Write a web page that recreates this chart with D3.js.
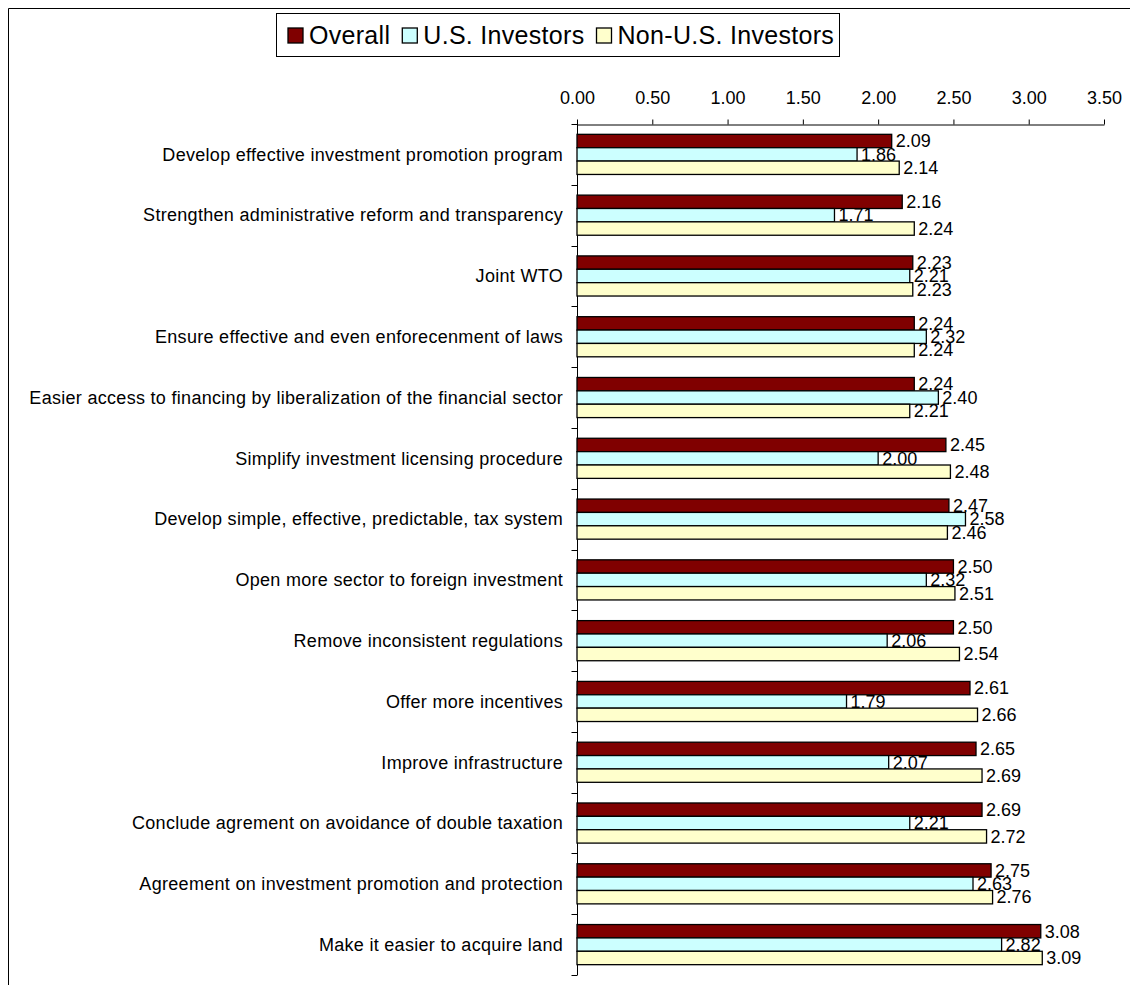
<!DOCTYPE html>
<html><head><meta charset="utf-8">
<script src="https://cdn.jsdelivr.net/npm/d3@7"></script>
<style>body{margin:0;background:#fff} text{font-family:"Liberation Sans",Arial,sans-serif;fill:#000}</style>
</head><body><svg id="c" width="1130" height="985"></svg>
<script>
const categories = [
  "Develop effective investment promotion program",
  "Strengthen administrative reform and transparency",
  "Joint WTO",
  "Ensure effective and even enforecenment of laws",
  "Easier access to financing by liberalization of the financial sector",
  "Simplify investment licensing procedure",
  "Develop simple, effective, predictable, tax system",
  "Open more sector to foreign investment",
  "Remove inconsistent regulations",
  "Offer more incentives",
  "Improve infrastructure",
  "Conclude agrement on avoidance of double taxation",
  "Agreement on investment promotion and protection",
  "Make it easier to acquire land"
];
const overall        = [2.09, 2.16, 2.23, 2.24, 2.24, 2.45, 2.47, 2.50, 2.50, 2.61, 2.65, 2.69, 2.75, 3.08];
const usInvestors    = [1.86, 1.71, 2.21, 2.32, 2.40, 2.00, 2.58, 2.32, 2.06, 1.79, 2.07, 2.21, 2.63, 2.82];
const nonUsInvestors = [2.14, 2.24, 2.23, 2.24, 2.21, 2.48, 2.46, 2.51, 2.54, 2.66, 2.69, 2.72, 2.76, 3.09];
const seriesNames  = ["Overall", "U.S. Investors", "Non-U.S. Investors"];
const seriesColors = ["#800000", "#CCFFFF", "#FFFFCC"];
const tickValues   = [0, 0.5, 1.0, 1.5, 2.0, 2.5, 3.0, 3.5];

const seriesValues = [overall, usInvestors, nonUsInvestors];
const svg = d3.select("#c");

// frame
svg.append("path").attr("d","M8.5,985V8.5H1130").attr("fill","none").attr("stroke","#000").attr("stroke-width",1);

const x = d3.scaleLinear().domain([0, 3.5]).range([577, 1104]);
const y = d3.scaleBand().domain(categories).range([124, 975]).paddingInner(0.34).paddingOuter(0.17);
const ySub = d3.scaleBand().domain(seriesNames).range([0, y.bandwidth()]);

// top axis
const gx = svg.append("g").attr("transform","translate(0,124.5)")
  .call(d3.axisTop(x).tickValues(tickValues).tickFormat(d3.format(".2f")).tickSize(5).tickSizeOuter(0).tickPadding(16));
gx.select(".domain").attr("stroke","#000");
gx.selectAll(".tick line").attr("stroke","#000");
gx.selectAll(".tick text").attr("font-size","18px").attr("font-family",'"Liberation Sans",Arial,sans-serif').attr("fill","#000");

// y axis line and category boundary ticks
const x0 = Math.round(x(0)) + 0.5;
svg.append("line").attr("x1",x0).attr("x2",x0).attr("y1",124).attr("y2",975).attr("stroke","#000");
const step = y.step();
const y0 = y.range()[0];
svg.append("g").selectAll("line").data(d3.range(categories.length + 1)).join("line")
  .attr("x1", x0 - 6).attr("x2", x0)
  .attr("y1", i => Math.round(y0 + i * step) + 0.5).attr("y2", i => Math.round(y0 + i * step) + 0.5)
  .attr("stroke","#000");

// category labels
svg.append("g").selectAll("text").data(categories).join("text")
  .attr("x", 563).attr("y", d => y(d) + y.bandwidth()/2).attr("dy","0.35em")
  .attr("text-anchor","end").attr("font-size","18px").attr("letter-spacing","0.3px").text(d => d);

// bars
const groups = svg.append("g").selectAll("g").data(categories).join("g")
  .attr("transform", d => `translate(0,${y(d)})`);
seriesNames.forEach((s, si) => {
  groups.append("rect")
    .attr("x", x(0))
    .attr("y", ySub(s))
    .attr("width", (d, i) => x(seriesValues[si][i]) - x(0))
    .attr("height", ySub.bandwidth())
    .attr("fill", seriesColors[si]).attr("stroke","#000").attr("stroke-width",1.3);
  groups.append("text")
    .attr("x", (d, i) => x(seriesValues[si][i]) + 4)
    .attr("y", ySub(s) + ySub.bandwidth()/2).attr("dy","0.35em")
    .attr("font-size","18px")
    .text((d, i) => d3.format(".2f")(seriesValues[si][i]));
});

// legend
const lg = svg.append("g");
lg.append("rect").attr("x",276.5).attr("y",13.5).attr("width",563).attr("height",43)
  .attr("fill","#fff").attr("stroke","#000").attr("stroke-width",1);
let cx = 288;
seriesNames.forEach((s, si) => {
  lg.append("rect").attr("x", cx).attr("y", 28).attr("width", 15).attr("height", 15)
    .attr("fill", seriesColors[si]).attr("stroke","#000").attr("stroke-width",1.3);
  cx += 21;
  const t = lg.append("text").attr("x", cx).attr("y", 35.5).attr("dy","0.35em")
    .attr("font-size","25px").attr("letter-spacing","0.3px").text(s);
  cx += t.node().getComputedTextLength() + 12;
});
</script></body></html>
